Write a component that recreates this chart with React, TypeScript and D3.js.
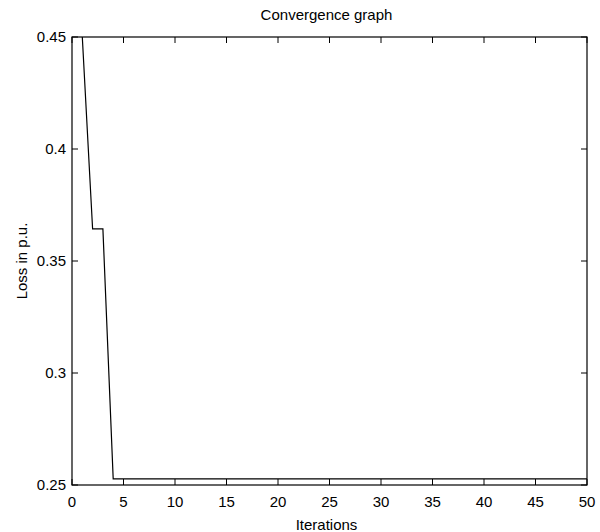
import React from "react";
import * as d3 from "d3";

const iterations: number[] = [
  1, 2, 3, 4, 5, 6, 7, 8, 9, 10, 11, 12, 13, 14, 15, 16, 17, 18, 19, 20, 21, 22, 23, 24, 25,
  26, 27, 28, 29, 30, 31, 32, 33, 34, 35, 36, 37, 38, 39, 40, 41, 42, 43, 44, 45, 46, 47, 48, 49, 50,
];
const losses: number[] = [
  0.45, 0.3643, 0.3643, 0.2527, 0.2527, 0.2527, 0.2527, 0.2527, 0.2527, 0.2527,
  0.2527, 0.2527, 0.2527, 0.2527, 0.2527, 0.2527, 0.2527, 0.2527, 0.2527, 0.2527,
  0.2527, 0.2527, 0.2527, 0.2527, 0.2527, 0.2527, 0.2527, 0.2527, 0.2527, 0.2527,
  0.2527, 0.2527, 0.2527, 0.2527, 0.2527, 0.2527, 0.2527, 0.2527, 0.2527, 0.2527,
  0.2527, 0.2527, 0.2527, 0.2527, 0.2527, 0.2527, 0.2527, 0.2527, 0.2527, 0.2527,
];
const xTicks: number[] = [0, 5, 10, 15, 20, 25, 30, 35, 40, 45, 50];
const yTicks: number[] = [0.25, 0.3, 0.35, 0.4, 0.45];
const title = "Convergence graph";
const xLabel = "Iterations";
const yLabel = "Loss in p.u.";

const W = 600;
const H = 532;
const L = 72;
const R = 587;
const T = 37;
const B = 485;
const TICK = 6;
const FONT = "'Liberation Sans', Arial, sans-serif";

export default function App() {
  const x = d3.scaleLinear().domain([0, 50]).range([L, R]);
  const y = d3.scaleLinear().domain([0.25, 0.45]).range([B, T]);
  const pts: [number, number][] = iterations.map((it, i) => [it, losses[i]]);
  const line = d3
    .line<[number, number]>()
    .x((d) => x(d[0]))
    .y((d) => y(d[1]));

  return (
    <svg
      width={W}
      height={H}
      style={{ position: "absolute", left: 0, top: 0, background: "#fff" }}
      fontFamily={FONT}
    >
      <rect x={0} y={0} width={W} height={H} fill="#fff" />
      <defs>
        <clipPath id="plotclip">
          <rect x={L} y={T} width={R - L} height={B - T} />
        </clipPath>
      </defs>
      <path
        d={line(pts) || ""}
        fill="none"
        stroke="#000"
        strokeWidth={1.2}
        clipPath="url(#plotclip)"
      />
      <rect x={L} y={T} width={R - L} height={B - T} fill="none" stroke="#000" strokeWidth={1.2} />
      {xTicks.map((t) => (
        <g key={"x" + t}>
          <line x1={x(t)} x2={x(t)} y1={B} y2={B - TICK} stroke="#000" />
          <line x1={x(t)} x2={x(t)} y1={T} y2={T + TICK} stroke="#000" />
          <text x={x(t)} y={507} textAnchor="middle" fontSize={15} fill="#000">
            {t}
          </text>
        </g>
      ))}
      {yTicks.map((t) => (
        <g key={"y" + t}>
          <line x1={L} x2={L + TICK} y1={y(t)} y2={y(t)} stroke="#000" />
          <line x1={R} x2={R - TICK} y1={y(t)} y2={y(t)} stroke="#000" />
          <text x={66} y={y(t)} dy="0.36em" textAnchor="end" fontSize={15} fill="#000">
            {String(t)}
          </text>
        </g>
      ))}
      <text x={(L + R) / 2 - 3} y={20} textAnchor="middle" fontSize={15} fill="#000">
        {title}
      </text>
      <text x={(L + R) / 2 - 3} y={530} textAnchor="middle" fontSize={15} fill="#000">
        {xLabel}
      </text>
      <text
        transform={`translate(27, ${(T + B) / 2}) rotate(-90)`}
        textAnchor="middle"
        fontSize={15}
        fill="#000"
      >
        {yLabel}
      </text>
    </svg>
  );
}
